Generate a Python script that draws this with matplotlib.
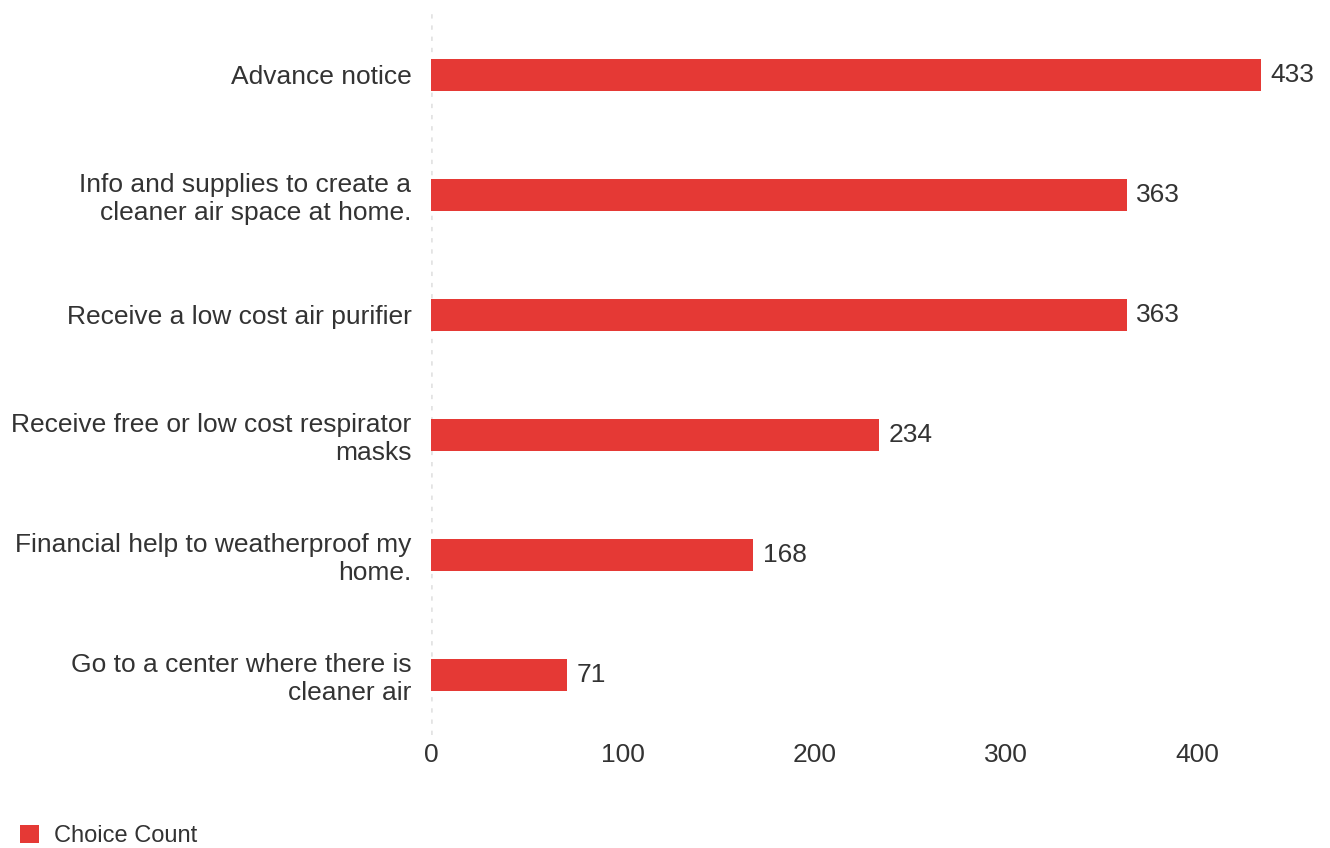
import matplotlib.pyplot as plt

plt.rcParams['font.family'] = ['Liberation Sans', 'DejaVu Sans']

# Survey answers, top to bottom
labels = [
    'Advance notice',
    'Info and supplies to create a\ncleaner air space at home.',
    'Receive a low cost air purifier',
    'Receive free or low cost respirator\nmasks',
    'Financial help to weatherproof my\nhome.',
    'Go to a center where there is\ncleaner air',
]
counts = [433, 363, 363, 234, 168, 71]
xticks = [0, 100, 200, 300, 400]

bar_color = '#e53935'
text_color = '#333333'

fig = plt.figure(figsize=(13.3, 8.48), dpi=100)
ax = fig.add_axes([0.324, 0.1333, 0.6486, 0.8527])

ypos = list(range(len(labels)))[::-1]
bars = ax.barh(ypos, counts, height=0.27, color=bar_color, label='Choice Count')

for y, v in zip(ypos, counts):
    ax.text(v + 5, y, str(v), va='center', ha='left', fontsize=19, color=text_color)

ax.set_xlim(0, 450)
ax.set_ylim(-0.5, 5.525)
ax.set_yticks(ypos)
ax.set_yticklabels(labels, fontsize=19, color=text_color, linespacing=1.2)
ax.set_xticks(xticks)
ax.set_xticklabels([str(t) for t in xticks], fontsize=19, color=text_color)
ax.tick_params(axis='both', length=0)
ax.tick_params(axis='y', pad=14)
ax.tick_params(axis='x', pad=6)

for s in ax.spines.values():
    s.set_visible(False)
ax.axvline(0, color='#e3e3e3', lw=2.6, linestyle=(0, (1.2, 1.9)), zorder=0)

fig.legend(handles=[bars], loc='lower left', bbox_to_anchor=(-0.001, -0.024),
           frameon=False, fontsize=17, handlelength=0.8, handleheight=0.8,
           handletextpad=0.65, labelcolor=text_color)

fig.savefig('out.png', dpi=100)
